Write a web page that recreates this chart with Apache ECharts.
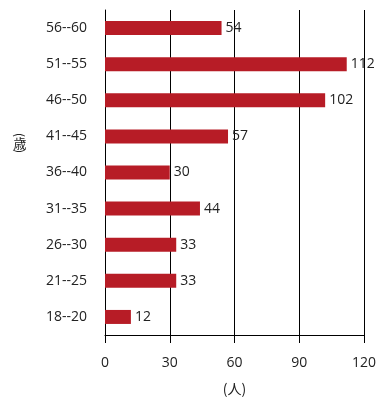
<!DOCTYPE html>
<html><head><meta charset="utf-8">
<script src="https://cdn.jsdelivr.net/npm/echarts@6/dist/echarts.min.js"></script>
<style>html,body{margin:0;padding:0;background:#fff}#c{width:384px;height:415px}</style>
</head><body><div id="c"></div>
<script>
const categories = ['18--20','21--25','26--30','31--35','36--40','41--45','46--50','51--55','56--60'];
const values = [12,33,33,44,30,57,102,112,54];
const xTicks = [0,30,60,90,120];
const font = '"Open Sans","Noto Sans CJK JP",sans-serif';
const cjk = '"Noto Sans CJK JP",sans-serif';
const chart = echarts.init(document.getElementById('c'), null, {renderer:'canvas'});
chart.setOption({
  animation:false,
  grid:{left:105,right:20,top:10,bottom:80,containLabel:false},
  xAxis:{type:'value',min:0,max:120,interval:30,
    name:'(人)',nameLocation:'middle',nameGap:47,
    nameTextStyle:{color:'#222',fontSize:14,fontFamily:cjk},
    axisLine:{show:true,lineStyle:{color:'#000',width:1}},
    axisTick:{show:true,length:8,inside:false,lineStyle:{color:'#000'}},
    axisLabel:{color:'#222',fontSize:14,fontFamily:font,margin:21,formatter:v=>xTicks.includes(v)?String(v):''},
    splitLine:{show:true,lineStyle:{color:'#000',width:1}}},
  yAxis:{type:'category',data:categories,
    axisLine:{show:true,onZero:false,lineStyle:{color:'#000',width:1}},
    axisTick:{show:false},
    axisLabel:{color:'#222',fontSize:14,fontFamily:font,margin:18}},
  series:[{type:'bar',data:values,barWidth:14,
    itemStyle:{color:'#b71c26'},
    label:{show:true,position:'right',distance:4,color:'#222',fontSize:14,fontFamily:font}}],
  graphic:[
    {type:'text',x:20,y:135,rotation:-Math.PI/2,style:{text:'(',fill:'#222',font:'12px '+cjk,align:'center',verticalAlign:'middle'}},
    {type:'text',x:20,y:143,style:{text:'歳',fill:'#222',font:'13px '+cjk,align:'center',verticalAlign:'middle'}},
    {type:'text',x:20,y:151,rotation:-Math.PI/2,style:{text:')',fill:'#222',font:'12px '+cjk,align:'center',verticalAlign:'middle'}}
  ]
});
</script></body></html>
